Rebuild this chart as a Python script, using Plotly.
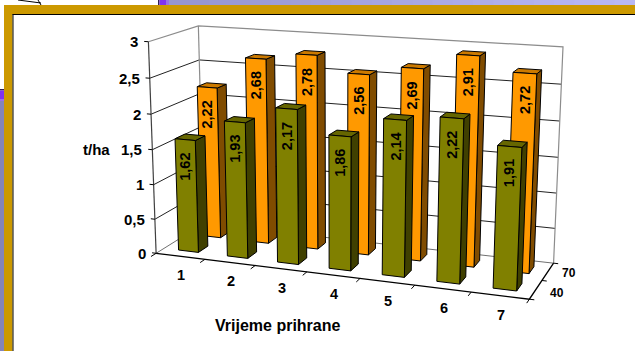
import numpy as np
import plotly.graph_objects as go

# Chart data
categories = ["1", "2", "3", "4", "5", "6", "7"]
series_names = ["40", "70"]
values_40 = [1.62, 1.93, 2.17, 1.86, 2.14, 2.22, 1.91]
values_70 = [2.22, 2.68, 2.78, 2.56, 2.69, 2.91, 2.72]
value_ticks = [0, 0.5, 1, 1.5, 2, 2.5, 3]
value_tick_labels = ["0", "0,5", "1", "1,5", "2", "2,5", "3"]
y_title = "t/ha"
x_title = "Vrijeme prihrane"

W, H = 635, 351
V_MAX = 3.0
FONT = "Liberation Sans"

# Camera calibration: corners of the plot box -> page pixels. Box coordinates are
# (category position 0..1, value 0..V_MAX, depth 0..1).
box_points = [
    (0, 0, 0, 156.7, 252.7), (1, 0, 0, 529.3, 300.0), (1, 0, 1, 554.0, 262.3),
    (0, 0, 1, 203.0, 224.5), (0, 3, 0, 147.7, 42.0), (0, 3, 1, 199.0, 25.7),
    (1, 3, 1, 563.3, 47.0), (1, 1.5, 1, 557.5, 157.3), (0, 1.5, 0, 152.5, 149.3),
]


def fit_camera(points):
    rows, rhs = [], []
    for u, v, w, px, py in points:
        X = [u, v, w, 1]
        rows.append(X + [0, 0, 0, 0] + [-px * c for c in X[:3]])
        rhs.append(px)
        rows.append([0, 0, 0, 0] + X + [-py * c for c in X[:3]])
        rhs.append(py)
    sol = np.linalg.lstsq(np.array(rows, float), np.array(rhs, float), rcond=None)[0]
    return np.append(sol, 1.0).reshape(3, 4)


CAM = fit_camera(box_points)


def project(u, v, w):
    q = CAM @ np.array([u, v, w, 1.0])
    return q[0] / q[2], q[1] / q[2]


def polyline(points, color, width=1, fill=None):
    xy = [project(*p) for p in points]
    return go.Scatter(
        x=[p[0] for p in xy], y=[p[1] for p in xy], mode="lines",
        line=dict(color=color, width=width),
        fill="toself" if fill else None, fillcolor=fill,
        hoverinfo="skip", showlegend=False,
    )


fig = go.Figure()
annotations = []


def label(text, x, y, size=15, angle=0, anchor="center"):
    annotations.append(dict(
        x=x, y=y, xref="x", yref="y", text=f"<b>{text}</b>", showarrow=False,
        xanchor=anchor, yanchor="middle", textangle=angle,
        font=dict(family=FONT, size=size, color="#000000"),
    ))


# Slide backdrop behind the chart
shapes = []


def rect(x0, y0, x1, y1, color):
    shapes.append(dict(type="rect", xref="x", yref="y", x0=x0, y0=y0, x1=x1, y1=y1,
                       fillcolor=color, line_width=0, layer="below"))


strip_stops = np.linspace(169, 635, 24)
for a, b in zip(strip_stops[:-1], strip_stops[1:]):
    t = (a - 169) / (635 - 169)
    c = int(150 + 36 * t)
    rect(a, 0, b + 1, 5, f"rgb({c},{c},{int(208 + 38 * t)})")
rect(158, 0, 159.5, 5, "#302050")
rect(159.5, 0, 166, 5, "#8033F0")
rect(166, 0, 169, 5, "#9A70E8")
rect(0, 89, 4, 90.5, "#302050")
rect(0, 90.5, 4, 99, "#8033F0")
rect(0, 99, 4, 101, "#9A70E8")
rect(0, 101, 4, H, "#8484BA")
rect(4, 5, W, 14, "#CC9900")
rect(4, 5, 12.5, H, "#CC9900")
rect(12.5, 14, W, 15, "#000000")
rect(12.5, 14, 13.5, H, "#000000")
shapes.append(dict(type="path", xref="x", yref="y", layer="below",
                   path="M 18 0 L 41 3 M 38 0 L 41 5", line=dict(color="#000000", width=1)))

# Walls and gridlines
GRID = "#222222"
WALL = "#8C8C8C"
for v in value_ticks[1:-1]:
    fig.add_trace(polyline([(0, v, 0), (0, v, 1), (1, v, 1)], GRID))
fig.add_trace(polyline([(0, 3, 0), (0, 3, 1), (1, 3, 1), (1, 0, 1)], WALL, 1.2))
fig.add_trace(polyline([(0, 3, 1), (0, 0, 1)], WALL, 1.2))
fig.add_trace(polyline([(0, 0, 0), (0, 0, 1), (1, 0, 1)], "#707070"))

# Axis lines and tick marks
fig.add_trace(polyline([(0, 3, 0), (0, 0, 0)], "#404040", 1.2))
fig.add_trace(polyline([(0, 0, 0), (1, 0, 0), (1, 0, 1)], "#000000", 1.3))
for v in value_ticks:
    fig.add_trace(polyline([(-0.012, v, 0), (0, v, 0)], "#000000"))
for i in range(len(categories) + 1):
    fig.add_trace(polyline([(i / len(categories), 0, -0.10), (i / len(categories), 0, 0)], "#000000"))
for w in (0, 0.5, 1):
    fig.add_trace(polyline([(1, 0, w), (1.012, 0, w)], "#000000"))

# Bars: back series first so the front series paints over it
BAR_U = (0.30, 0.71)
SERIES = [
    (values_70, (0.64, 0.84), "#FF9900", "#CC7A00", "#804C00"),
    (values_40, (0.16, 0.36), "#808000", "#666600", "#404000"),
]
n = len(categories)
for vals, (w0, w1), front, top, side in SERIES:
    for i, val in enumerate(vals):
        u0, u1 = (i + BAR_U[0]) / n, (i + BAR_U[1]) / n
        fig.add_trace(polyline([(u1, 0, w0), (u1, 0, w1), (u1, val, w1), (u1, val, w0), (u1, 0, w0)],
                               "#000000", 1, side))
        fig.add_trace(polyline([(u0, val, w0), (u1, val, w0), (u1, val, w1), (u0, val, w1), (u0, val, w0)],
                               "#000000", 1, top))
        fig.add_trace(polyline([(u0, 0, w0), (u1, 0, w0), (u1, val, w0), (u0, val, w0), (u0, 0, w0)],
                               "#000000", 1, front))
        px, py = project((u0 + u1) / 2, val, w0)
        label(f"{val:.2f}".replace(".", ","), px, py + 27, 14.5, -90)

# Axis text
for v, txt in zip(value_ticks, value_tick_labels):
    px, py = project(0, v, 0)
    label(txt, px - 8, py, 15, 0, "right")
for i, txt in enumerate(categories):
    px, py = project((i + 0.5) / n, 0, 0)
    label(txt, px + 1, py + 19, 14.5)
px, py = project(1, 0, 0.25)
label(series_names[0], px + 21, py + 3, 12)
px, py = project(1, 0, 0.75)
label(series_names[1], px + 21, py + 1, 12)
label(y_title, 96.5, 149, 15)
label(x_title, 277.5, 325, 16)

fig.update_layout(
    width=W, height=H, margin=dict(l=0, r=0, t=0, b=0),
    paper_bgcolor="#FFFFFF", plot_bgcolor="#FFFFFF",
    xaxis=dict(range=[0, W], visible=False, fixedrange=True),
    yaxis=dict(range=[H, 0], visible=False, fixedrange=True),
    shapes=shapes, annotations=annotations, showlegend=False,
)
fig.write_html("out.html", config={"displayModeBar": False})
